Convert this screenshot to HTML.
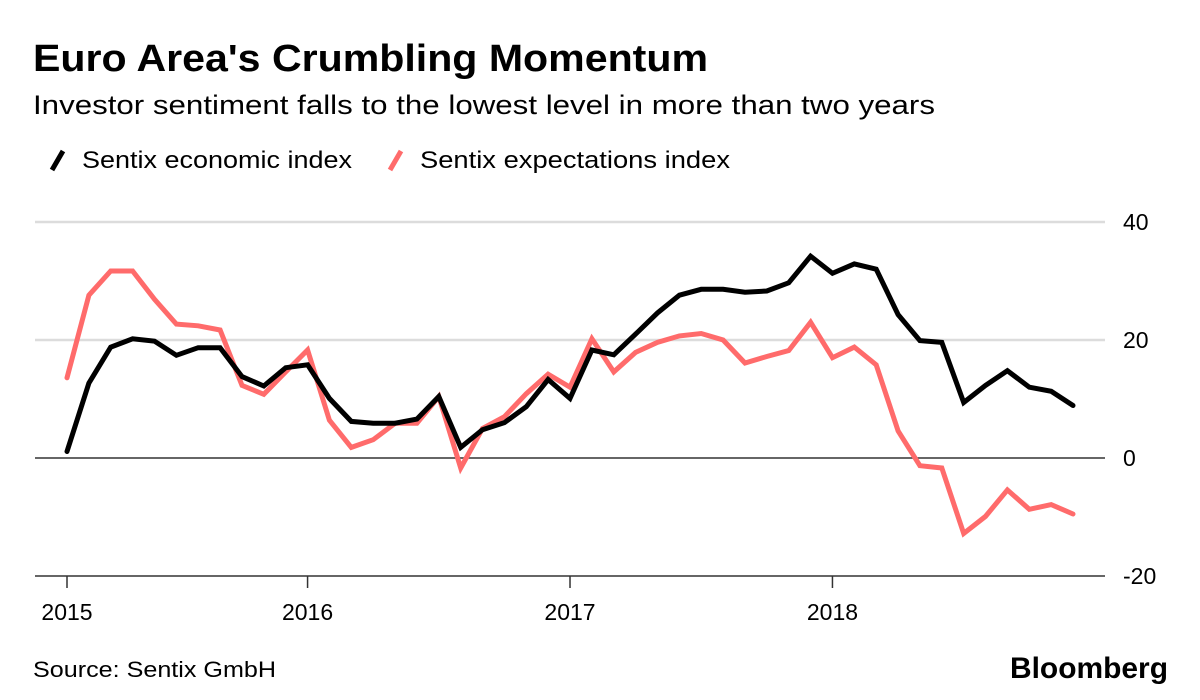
<!DOCTYPE html>
<html><head><meta charset="utf-8"><style>
body{margin:0;background:#fff;}
svg{display:block;font-family:"Liberation Sans",sans-serif;}
</style></head><body>
<svg id="chart" width="1200" height="700" viewBox="0 0 1200 700">
<text x="33" y="71" font-size="38" font-weight="bold" textLength="675" lengthAdjust="spacingAndGlyphs">Euro Area's Crumbling Momentum</text>
<text x="33" y="114" font-size="27" textLength="902" lengthAdjust="spacingAndGlyphs">Investor sentiment falls to the lowest level in more than two years</text>
<g>
<line x1="52" y1="170" x2="63" y2="151" stroke="#000" stroke-width="5"/>
<text x="82" y="168" font-size="24" textLength="270" lengthAdjust="spacingAndGlyphs">Sentix economic index</text>
<line x1="390" y1="170" x2="401" y2="151" stroke="#ff6b6b" stroke-width="5"/>
<text x="420" y="168" font-size="24" textLength="310" lengthAdjust="spacingAndGlyphs">Sentix expectations index</text>
</g>
<g id="grid"></g>
<g id="series"></g>
<text x="33" y="677" font-size="22" textLength="243" lengthAdjust="spacingAndGlyphs">Source: Sentix GmbH</text>
<text x="1168" y="678" font-size="30" font-weight="bold" text-anchor="end" textLength="158" lengthAdjust="spacingAndGlyphs">Bloomberg</text>
</svg>
<script>
const economic = [1.1,12.7,18.8,20.2,19.8,17.4,18.7,18.7,13.8,12.2,15.3,15.8,10.1,6.2,5.9,5.9,6.6,10.4,1.8,4.8,6.0,8.7,13.3,10.1,
18.3,17.5,21.0,24.6,27.6,28.6,28.6,28.1,28.3,29.7,34.2,31.3,32.9,32.0,24.3,19.9,19.6,9.4,12.3,14.8,12.0,11.3,8.9];
const expectations = [13.6,27.6,31.7,31.7,26.9,22.7,22.4,21.7,12.3,10.8,14.6,18.3,6.4,1.8,3.1,5.9,5.9,10.4,-1.7,5.0,7.0,10.9,14.2,12.0,
20.2,14.6,17.9,19.6,20.7,21.1,20.0,16.1,17.2,18.2,23.0,17.0,18.8,15.8,4.6,-1.3,-1.7,-12.8,-9.9,-5.4,-8.7,-7.9,-9.5];
const yTicks = [40,20,0,-20];
const yTickLabels = ["40","20","0","-20"];
const xTickIndex = [0,11,23,35];
const xTickLabels = ["2015","2016","2017","2018"];

const NS = "http://www.w3.org/2000/svg";
function x(i){ return 67 + i*21.87; }
function y(v){ return 458 - v*5.9; }
const grid = document.getElementById('grid');
const series = document.getElementById('series');
function mk(tag, attrs, parent){ const e=document.createElementNS(NS,tag); for(const k in attrs) e.setAttribute(k,attrs[k]); parent.appendChild(e); return e; }

yTicks.forEach((v,k)=>{
  const solid = v<=0;
  const l = mk('line',{x1:35,x2:1105,y1:y(v),y2:y(v),stroke:solid?'#333':'#dcdcdc','stroke-width':solid?1.5:2.5},grid);
  
  
  const t = mk('text',{x:1123,y:y(v)+8,'font-size':23},grid);
  t.textContent = yTickLabels[k];
  
  
});
xTickIndex.forEach((idx,k)=>{
  const l = mk('line',{x1:x(idx),x2:x(idx),y1:576,y2:588,stroke:'#333','stroke-width':1.5},grid);
  
  
  const t = mk('text',{x:x(idx),y:620,'font-size':23,'text-anchor':'middle'},grid);
  t.textContent = xTickLabels[k];
  
  
});
function draw(arr,color,name){
  const d = arr.map((v,i)=>(i?'L':'M')+x(i).toFixed(1)+','+y(v).toFixed(1)).join('');
  const p = mk('path',{d:d,fill:'none',stroke:color,'stroke-width':5,'stroke-linejoin':'miter','stroke-linecap':'round'},series);
  
  
}
draw(expectations,'#ff6b6b','expectations-line');
draw(economic,'#000','economic-line');
</script>
</body></html>
